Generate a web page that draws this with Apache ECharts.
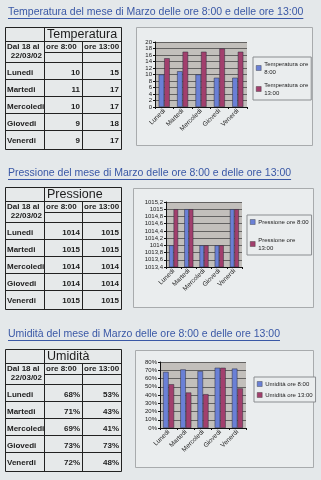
<!DOCTYPE html>
<html>
<head>
<meta charset="utf-8">
<script src="https://cdn.jsdelivr.net/npm/echarts@6/dist/echarts.min.js"></script>
<style>
html,body{margin:0;padding:0;background:#e4e8ea;}
#c{width:321px;height:480px;}
</style>
</head>
<body>
<div id="c"></div>
<script>
// ---- data ----
const days = ['Lunedi', 'Martedi', 'Mercoledi', 'Giovedi', 'Venerdi'];
const tempMorning = [10, 11, 10, 9, 9];
const tempAfternoon = [15, 17, 17, 18, 17];
const pressMorning = [1014, 1015, 1014, 1014, 1015];
const pressAfternoon = [1015, 1015, 1014, 1014, 1015];
const humMorning = [68, 71, 69, 73, 72];
const humAfternoon = [53, 43, 41, 73, 48];
const titles = [
  'Temperatura del mese di Marzo delle ore 8:00 e delle ore 13:00',
  'Pressione del mese di Marzo delle ore 8:00 e delle ore 13:00',
  'Umidità del mese di Marzo delle ore 8:00 e delle ore 13:00'
];
const tableHeaders = ['Temperatura', 'Pressione', 'Umidità'];
const periodLabel = ['Dal 18 al', '22/03/02'];
const timeLabels = ['ore 8:00', 'ore 13:00'];
const seriesNames = [
  ['Temperatura ore 8:00', 'Temperatura ore 13:00'],
  ['Pressione ore 8:00', 'Pressione ore 13:00'],
  ['Umidità ore 8:00', 'Umidità ore 13:00']
];
const legendLabels = [
  ['Temperatura ore\n8:00', 'Temperatura ore\n13:00'],
  ['Pressione ore 8:00', 'Pressione ore\n13:00'],
  ['Umidità ore 8:00', 'Umidità ore 13:00']
];
const tempAxis = { min: 0, max: 20, interval: 2 };
const pressAxis = { min: 1013.4, max: 1015.2, interval: 0.2 };
const humAxis = { min: 0, max: 80, interval: 10 };

// ---- layout ----
const BLUE = '#6a80d6', MAROON = '#a23f6d', TXT = '#1c1c1c';
const sections = [
  { morning: tempMorning, afternoon: tempAfternoon, axis: tempAxis, suffix: '',
    titleY: 12, tableTop: 27, box: [136, 27, 176, 118],
    grid: { left: 155, top: 42, width: 92, height: 65 }, legend: { left: 253, top: 57 }, legendGap: 5, barW: 5.5,
    fmt: v => String(v) },
  { morning: pressMorning, afternoon: pressAfternoon, axis: pressAxis, suffix: '',
    titleY: 173, tableTop: 187, box: [133, 188, 180, 119],
    grid: { left: 166, top: 202, width: 76, height: 65 }, legend: { left: 247, top: 215 }, legendGap: 10, barW: 4.5,
    fmt: v => String(Number(v.toFixed(1))).replace('.', ',') },
  { morning: humMorning, afternoon: humAfternoon, axis: humAxis, suffix: '%',
    titleY: 334, tableTop: 349, box: [135, 350, 178, 117],
    grid: { left: 160, top: 362, width: 86, height: 66 }, legend: { left: 254, top: 377 }, legendGap: 3, barW: 5.5,
    fmt: v => Math.round(v) + '%' }
];

const measure = (() => {
  const ctx = document.createElement('canvas').getContext('2d');
  return (text, font) => { ctx.font = font; return ctx.measureText(text).width; };
})();

const graphics = [];
const grids = [], xAxes = [], yAxes = [], series = [], legends = [];
const TITLE_FONT = '10.5px "Liberation Sans", Arial, sans-serif';
const BOLD = 'bold 8px "Liberation Sans", Arial, sans-serif';

sections.forEach((s, i) => {
  // title
  const tx = 8;
  graphics.push({ type: 'text', style: { x: tx, y: s.titleY, text: titles[i], fill: '#3a58a6', font: TITLE_FONT, textVerticalAlign: 'middle' } });
  const tw = measure(titles[i], TITLE_FONT);
  graphics.push({ type: 'line', shape: { x1: tx, y1: s.titleY + 6.5, x2: tx + tw, y2: s.titleY + 6.5 }, style: { stroke: '#3a58a6', lineWidth: 1 } });

  // chart box
  graphics.push({ type: 'rect', z: -10, shape: { x: s.box[0] + 0.5, y: s.box[1] + 0.5, width: s.box[2], height: s.box[3] },
    style: { fill: '#eaedee', stroke: '#a8abad', lineWidth: 1 } });

  // table
  const T = s.tableTop;
  const cx = [5, 44, 82, 121];
  const hB = T + 14, oreB = T + 25, headB = T + 35;
  const rowH = 17;
  const rows = [headB, headB + rowH, headB + 2 * rowH, headB + 3 * rowH, headB + 4 * rowH, headB + 5 * rowH + 2];
  const L = (x1, y1, x2, y2, w) => graphics.push({ type: 'line', shape: { x1: x1, y1: y1, x2: x2, y2: y2 }, style: { stroke: '#222', lineWidth: w || 1 } });
  const bottom = rows[rows.length - 1];
  graphics.push({ type: 'rect', shape: { x: cx[0] + 0.5, y: T + 0.5, width: cx[3] - cx[0], height: bottom - T }, style: { fill: '#e6e9ea', stroke: '#222', lineWidth: 1 } });
  L(cx[1] + 0.5, T, cx[1] + 0.5, bottom);
  L(cx[2] + 0.5, hB, cx[2] + 0.5, bottom);
  L(cx[0], hB + 0.5, cx[3], hB + 0.5);
  L(cx[1], oreB + 0.5, cx[3], oreB + 0.5);
  rows.slice(0, -1).forEach(y => L(cx[0], y + 0.5, cx[3], y + 0.5));
  graphics.push({ type: 'text', style: { x: 47, y: T + 8, text: tableHeaders[i], fill: TXT, font: '12.5px "Liberation Sans", Arial, sans-serif', textVerticalAlign: 'middle' } });
  graphics.push({ type: 'text', style: { x: 7, y: T + 20, text: periodLabel[0], fill: TXT, font: BOLD, textVerticalAlign: 'middle' } });
  graphics.push({ type: 'text', style: { x: 42, y: T + 29, text: periodLabel[1], fill: TXT, font: BOLD, textAlign: 'right', textVerticalAlign: 'middle' } });
  graphics.push({ type: 'text', style: { x: 46, y: T + 20, text: timeLabels[0], fill: TXT, font: BOLD, textVerticalAlign: 'middle' } });
  graphics.push({ type: 'text', style: { x: 84, y: T + 20, text: timeLabels[1], fill: TXT, font: BOLD, textVerticalAlign: 'middle' } });
  days.forEach((d, k) => {
    const y = rows[k] + 11;
    graphics.push({ type: 'text', style: { x: 7, y: y, text: d, fill: TXT, font: BOLD, textVerticalAlign: 'middle' } });
    graphics.push({ type: 'text', style: { x: 80, y: y, text: s.morning[k] + s.suffix, fill: TXT, font: BOLD, textAlign: 'right', textVerticalAlign: 'middle' } });
    graphics.push({ type: 'text', style: { x: 119, y: y, text: s.afternoon[k] + s.suffix, fill: TXT, font: BOLD, textAlign: 'right', textVerticalAlign: 'middle' } });
  });

  // chart
  grids.push(Object.assign({ show: true, backgroundColor: '#c2bfbb', borderWidth: 0, containLabel: false }, s.grid));
  xAxes.push({
    type: 'category', gridIndex: i, data: days,
    axisLine: { lineStyle: { color: '#111', width: 1 } },
    axisTick: { show: true, length: 2, lineStyle: { color: '#111' } },
    axisLabel: { rotate: 45, fontSize: 6.5, color: '#222', margin: 3, interval: 0, fontFamily: 'Liberation Sans' }
  });
  yAxes.push({
    type: 'value', gridIndex: i, min: s.axis.min, max: s.axis.max, interval: s.axis.interval,
    axisLine: { show: true, lineStyle: { color: '#111', width: 1 } },
    axisTick: { show: true, length: 2, lineStyle: { color: '#111' } },
    splitLine: { show: true, lineStyle: { color: '#4a4a4a', width: 0.8 } },
    axisLabel: { fontSize: 6, lineHeight: 5, interval: 0, color: '#222', margin: 3, fontFamily: 'Liberation Sans', formatter: s.fmt,
      showMinLabel: true, showMaxLabel: true, hideOverlap: false }
  });
  [s.morning, s.afternoon].forEach((vals, j) => {
    series.push({
      type: 'bar', name: seriesNames[i][j], xAxisIndex: i, yAxisIndex: i, data: vals,
      barWidth: s.barW, barGap: '0%',
      itemStyle: { color: j === 0 ? BLUE : MAROON, borderColor: '#2a2a3a', borderWidth: 0.5 }
    });
  });
  legends.push({
    data: seriesNames[i], orient: 'vertical', left: s.legend.left, top: s.legend.top,
    backgroundColor: '#eaedee', borderColor: '#8a8d90', borderWidth: 1, padding: [3, 3, 3, 3],
    itemWidth: 5, itemHeight: 5, itemGap: s.legendGap, selectedMode: false,
    icon: 'rect',
    itemStyle: { borderColor: '#333', borderWidth: 0.4 },
    textStyle: { fontSize: 6, color: '#222', lineHeight: 8, padding: [0, 0, 0, -2], fontFamily: 'Liberation Sans' },
    formatter: name => legendLabels[i][seriesNames[i].indexOf(name)]
  });
});

const chart = echarts.init(document.getElementById('c'), null, { renderer: 'canvas' });
chart.setOption({
  backgroundColor: '#e4e8ea',
  animation: false,
  grid: grids, xAxis: xAxes, yAxis: yAxes, series: series, legend: legends,
  graphic: { elements: graphics }
});
</script>
</body>
</html>
